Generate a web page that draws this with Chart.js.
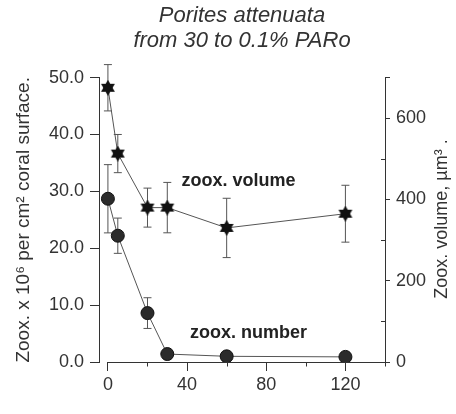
<!DOCTYPE html>
<html>
<head>
<meta charset="utf-8">
<script src="https://cdn.jsdelivr.net/npm/chart.js@4.4.1/dist/chart.umd.min.js"></script>
<style>
  html, body { margin: 0; padding: 0; background: #fff; }
  canvas { display: block; }
</style>
</head>
<body>
<canvas id="chart" width="456" height="414"></canvas>
<script>
// light level steps (x) and the two measured series
const xValues = [0, 5, 20, 30, 60, 120];
const numberValues = [28.7, 22.2, 8.6, 1.4, 1.0, 0.9];     // Zoox. x 10^6 per cm2
const numberErrors = [6.0, 3.1, 2.7, 0.5, 0.3, 0.3];
const volumeValues = [675, 513, 380, 380, 330, 365];       // µm3
const volumeErrors = [57, 47, 48, 62, 73, 70];

const xMajor = [0, 40, 80, 120];
const xMinor = [20, 60, 100, 140];
const rightMajor = [0, 200, 400, 600, 700];
const rightMinor = [100, 300, 500];
const rightLabels = [0, 200, 400, 600];

const titleLines = ['Porites attenuata', 'from 30 to 0.1% PARo'];
const leftTitle = 'Zoox. x 10\u2076 per cm\u00B2 coral surface.';
const rightTitle = 'Zoox. volume, \u00B5m\u00B3 .';

const FONT = '"Liberation Sans", Arial, sans-serif';

// filled six-pointed star for the volume markers
const makeStar = (size, color) => {
    const c = document.createElement('canvas');
    c.width = size;
    c.height = size;
    const g = c.getContext('2d');
    const r = size / 2;
    g.fillStyle = color;
    [-Math.PI / 2, Math.PI / 2].forEach(start => {
        g.beginPath();
        for (let i = 0; i < 3; i++) {
            const a = start + i * 2 * Math.PI / 3;
            const px = r + r * Math.cos(a);
            const py = r + r * Math.sin(a);
            i === 0 ? g.moveTo(px, py) : g.lineTo(px, py);
        }
        g.closePath();
        g.fill();
    });
    return c;
};
const starImg = makeStar(16, '#111');

const errorBars = {
    id: 'errorBars',
    beforeDatasetsDraw(chart) {
        const ctx = chart.ctx;
        const xs = chart.scales.x;
        const yr = chart.scales.yRight;
        const area = chart.chartArea;
        const sets = [
            { scale: chart.scales.yLeft, vals: numberValues, errs: numberErrors },
            { scale: yr, vals: volumeValues, errs: volumeErrors }
        ];
        ctx.save();
        ctx.strokeStyle = '#555';
        ctx.lineWidth = 1;
        sets.forEach(s => {
            s.vals.forEach((v, i) => {
                const px = xs.getPixelForValue(xValues[i]);
                const top = s.scale.getPixelForValue(v + s.errs[i]);
                const bot = s.scale.getPixelForValue(v - s.errs[i]);
                ctx.beginPath();
                ctx.moveTo(px, top);
                ctx.lineTo(px, bot);
                ctx.moveTo(px - 4, top);
                ctx.lineTo(px + 4, top);
                ctx.moveTo(px - 4, bot);
                ctx.lineTo(px + 4, bot);
                ctx.stroke();
            });
        });

        // x axis line starts at 0, minor ticks on x (outward) and right axis (inward)
        ctx.strokeStyle = '#333';
        ctx.beginPath();
        const yb = Math.round(area.bottom) + 0.5;
        ctx.moveTo(xs.getPixelForValue(0), yb);
        ctx.lineTo(area.right, yb);
        xMinor.forEach(v => {
            const px = Math.round(xs.getPixelForValue(v)) + 0.5;
            ctx.moveTo(px, yb);
            ctx.lineTo(px, yb + 4);
        });
        rightMinor.forEach(v => {
            const py = Math.round(yr.getPixelForValue(v)) + 0.5;
            ctx.moveTo(area.right, py);
            ctx.lineTo(area.right - 4, py);
        });
        ctx.stroke();
        ctx.restore();
    },
    afterDraw(chart) {
        const ctx = chart.ctx;
        const xs = chart.scales.x;
        const yl = chart.scales.yLeft;
        ctx.save();
        ctx.fillStyle = '#222';
        ctx.font = 'bold 18px ' + FONT;
        ctx.textAlign = 'center';
        ctx.textBaseline = 'middle';
        ctx.fillText('zoox. volume', xs.getPixelForValue(66), yl.getPixelForValue(31.8));
        ctx.fillText('zoox. number', xs.getPixelForValue(71), yl.getPixelForValue(5.1));

        // axis titles, both reading bottom to top
        ctx.fillStyle = '#333';
        const midY = (chart.chartArea.top + chart.chartArea.bottom) / 2;
        ctx.font = '19px ' + FONT;
        ctx.translate(24, midY);
        ctx.rotate(-Math.PI / 2);
        ctx.fillText(leftTitle, 0, 0);
        ctx.setTransform(1, 0, 0, 1, 0, 0);
        ctx.font = '18px ' + FONT;
        ctx.translate(442, 219);
        ctx.rotate(-Math.PI / 2);
        ctx.fillText(rightTitle, 0, 0);
        ctx.restore();
    }
};

const tickFont = { family: FONT, size: 18 };

new Chart(document.getElementById('chart'), {
    type: 'line',
    data: {
        datasets: [
            {
                label: 'zoox. volume',
                data: xValues.map((x, i) => ({ x: x, y: volumeValues[i] })),
                yAxisID: 'yRight',
                borderColor: '#555',
                borderWidth: 1,
                pointStyle: starImg,
                pointRadius: 8
            },
            {
                label: 'zoox. number',
                data: xValues.map((x, i) => ({ x: x, y: numberValues[i] })),
                yAxisID: 'yLeft',
                borderColor: '#555',
                borderWidth: 1,
                pointStyle: 'circle',
                pointRadius: 6.5,
                pointBackgroundColor: '#2b2b2b',
                pointBorderColor: '#111',
                pointBorderWidth: 1
            }
        ]
    },
    options: {
        responsive: false,
        animation: false,
        layout: { padding: 0 },
        plugins: {
            legend: { display: false },
            tooltip: { enabled: false },
            title: {
                display: true,
                fullSize: false,
                text: titleLines,
                color: '#333',
                font: { family: FONT, size: 22, style: 'italic', weight: 'normal', lineHeight: 1.15 },
                padding: { top: 3, bottom: 24 }
            }
        },
        scales: {
            x: {
                type: 'linear',
                min: -4.5,
                max: 140,
                afterBuildTicks: s => { s.ticks = xMajor.map(v => ({ value: v })); },
                afterFit: s => { s.height = 52; },
                ticks: {
                    font: tickFont,
                    color: '#333',
                    padding: 3,
                    maxRotation: 0,
                    autoSkip: false,
                    callback: v => String(v)
                },
                grid: { drawOnChartArea: false, tickLength: 9, color: '#333' },
                border: { display: false }
            },
            yLeft: {
                position: 'left',
                min: 0,
                max: 50,
                afterFit: s => { s.width = 99; },
                ticks: {
                    stepSize: 10,
                    font: tickFont,
                    color: '#333',
                    padding: 6,
                    callback: v => v.toFixed(1)
                },
                grid: { drawOnChartArea: false, tickLength: 9, color: '#333' },
                border: { color: '#333', width: 1 }
            },
            yRight: {
                position: 'right',
                min: 0,
                max: 700,
                afterBuildTicks: s => { s.ticks = rightMajor.map(v => ({ value: v })); },
                afterFit: s => { s.width = 71; },
                ticks: {
                    font: tickFont,
                    color: '#333',
                    padding: 6,
                    autoSkip: false,
                    callback: v => rightLabels.includes(v) ? String(v) : ''
                },
                grid: { drawOnChartArea: false, tickLength: 5, color: '#333' },
                border: { color: '#333', width: 1 }
            }
        }
    },
    plugins: [errorBars]
});
</script>
</body>
</html>
